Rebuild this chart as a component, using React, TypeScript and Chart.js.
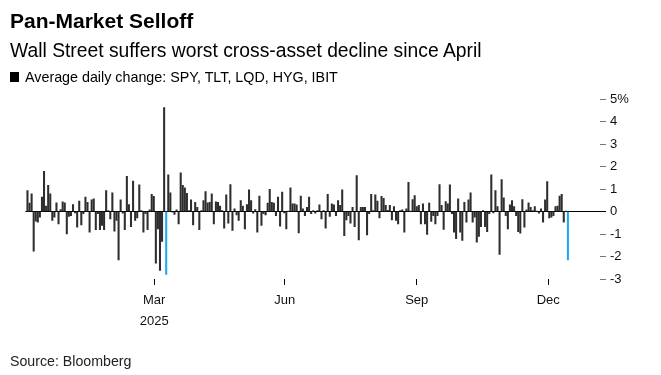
import React, { useEffect, useRef } from "react";
import { Chart, registerables } from "chart.js";

Chart.register(...registerables);

// Average daily change (%) of SPY, TLT, LQD, HYG, IBIT — one value per trading day
const values: number[] = [
  // segment 1
  0.93, 0.37, 0.79, -1.76, -0.43, -0.47, -0.25, 0.64, 1.79, 0.24,
  1.16, 0.79, -0.4, -0.25, 0.39, -0.55, 0.09, 0.43, 0.39, -1.0,
  -0.22, -0.18, 0.31, -0.06, -0.7, 0.46, -0.6, -0.1, 0.64, 0.41,
  -0.92, 0.52, 0.56, -0.81, -0.1, -0.81, -0.62, -0.81, 0.93, 0.04,
  -0.33, 0.83, -0.87, -0.4, -2.15, 0.52, -0.07, -0.81, 1.56, 0.31,
  -0.67, 1.35,
  // segment 2
  -0.4, -0.28, 1.19, 0.04, -0.92, -0.1, -0.81, 0.07, 0.76, 0.67,
  -2.3, -0.77, -2.62, -1.33, 4.62, -2.8, 1.63, 0.83, -0.03, -0.13,
  0.07, -0.55, 1.72, 1.16, 1.05, 0.81, 0.04, 0.52, -0.6, 0.41,
  0.19, -0.81, 0.04, 0.49, 0.89, 0.39, 0.41, 0.79, -0.55, 0.43,
  0.41, 0.24, 0.04, -0.74, 0.74, -0.52, 1.2, -0.84, 0.12, -0.15,
  -0.4, 0.49,
  // segment 3
  0.24, -0.77, 0.31, 0.96, 0.49, -0.07, 0.09, -0.92, 0.68, -0.62,
  -0.1, -0.15, 0.37, 0.98, 0.41, 0.37, -0.18, 0.64, -0.65, 0.86,
  -0.06, -0.77, 0.01, 1.05, 0.34, 0.34, 0.3, -0.95, 0.68, 0.12,
  -0.18, 0.19, 0.64, -0.1, 0.04, -0.07, 0.04, 0.3, -0.33, 0.04,
  -0.74, 0.76, -0.22, 0.34, 0.3, -0.18, 0.49, 0.27, 0.96, -1.07,
  -0.37, -0.18,
  // segment 4
  -0.52, 0.19, -0.67, 1.6, -1.26, 0.19, 0.19, 0.19, -1.04, -0.1,
  0.76, 0.04, 0.74, 0.46, -0.28, 0.67, 0.59, 0.27, 0.05, 0.27,
  -0.37, 0.22, -0.4, -0.55, 0.04, 0.07, -0.92, 0.12, 1.3, 0.02,
  0.53, 0.71, 0.22, 0.27, -0.55, 0.34, -0.55, -1.02, 0.37, -0.44,
  -0.18, -0.55, -0.18, 1.2, 0.27, -0.8, 0.44, 0.34, 1.19, -0.1,
  -0.92, -1.21,
  // segment 5
  0.56, -0.92, -1.29, 0.41, -0.47, 0.52, 0.83, -0.47, -0.25, -1.36,
  -1.11, -0.67, 0.04, -0.67, -0.9, -0.1, 1.63, -0.06, 0.93, 0.22,
  -1.91, 1.42, 0.61, -0.18, -0.77, 0.3, 0.49, 0.22, -0.18, -0.9,
  -0.96, 0.53, -0.7, 0.07, 0.39, 0.19, 0.04, 0.22, 0.02, -0.07,
  0.12, -0.47, 0.52, 1.33, -0.28, -0.25, -0.18, 0.22, 0.24, 0.68,
  0.76, -0.47, 0.02, -2.15,
];

// Days highlighted in blue (April's worst day and the latest selloff)
const highlightIdx: number[] = [67, 261];

// X-axis month ticks (position in trading-day index) and labels
const xTickPos: number[] = [61.2, 124.2, 188, 251.5];
const xTickLabels: (string | string[])[] = [["Mar", "2025"], "Jun", "Sep", "Dec"];

// Y-axis ticks
const yTicks: number[] = [5, 4, 3, 2, 1, 0, -1, -2, -3];

const FONT = "'Liberation Sans', Arial, Helvetica, sans-serif";
const BAR = "#2e2e2e";
const BLUE = "#1DA9EE";

export default function App() {
  const ref = useRef<HTMLCanvasElement | null>(null);

  useEffect(() => {
    if (!ref.current) return;
    Chart.defaults.font.family = FONT;
    const chart = new Chart(ref.current, {
      type: "bar",
      data: {
        datasets: [
          {
            data: values.map((v, i) => ({ x: i, y: v })),
            backgroundColor: values.map((_, i) => (highlightIdx.includes(i) ? BLUE : BAR)),
            barThickness: 1.4,
            borderWidth: 0,
          } as any,
        ],
      },
      options: {
        animation: false,
        responsive: false,
        events: [],
        layout: { padding: { left: 25.4, top: 99, right: 0, bottom: 0 } },
        plugins: { legend: { display: false }, tooltip: { enabled: false }, title: { display: false } },
        scales: {
          x: {
            type: "linear",
            min: -1,
            max: 276.5,
            offset: false,
            afterBuildTicks: (s: any) => {
              s.ticks = xTickPos.map((v) => ({ value: v }));
            },
            afterFit: (s: any) => {
              s.height = 96;
            },
            grid: { offset: false, drawOnChartArea: false, drawTicks: true, tickLength: 6, color: "#000", lineWidth: 1 },
            border: { display: false },
            ticks: {
              autoSkip: false,
              maxRotation: 0,
              padding: 5,
              color: "#111",
              font: { size: 13, lineHeight: 1.6 },
              callback: (_v: any, i: number) => xTickLabels[i] as any,
            },
          },
          y: {
            position: "right",
            min: -3,
            max: 5,
            afterBuildTicks: (s: any) => {
              s.ticks = yTicks.map((v) => ({ value: v }));
            },
            afterFit: (s: any) => {
              s.width = 61;
            },
            grid: {
              drawOnChartArea: true,
              drawTicks: true,
              tickLength: 6,
              lineWidth: 1,
              color: (ctx: any) => (ctx.tick && ctx.tick.value === 0 ? "#000" : "rgba(0,0,0,0)"),
              tickColor: (ctx: any) => (ctx.tick && ctx.tick.value === 0 ? "#000" : "#777"),
            },
            border: { display: false },
            ticks: {
              padding: 4,
              color: "#111",
              font: { size: 13 },
              callback: (v: any) => (v === 5 ? "5%" : String(v)),
            },
          },
        },
      },
    });
    return () => chart.destroy();
  }, []);

  const txt = (top: number, size: number, extra: React.CSSProperties = {}): React.CSSProperties => ({
    position: "absolute",
    left: 10,
    top,
    fontSize: size,
    lineHeight: `${size}px`,
    fontFamily: FONT,
    color: "#000",
    whiteSpace: "nowrap",
    margin: 0,
    ...extra,
  });

  return (
    <div style={{ position: "absolute", left: 0, top: 0, width: 661, height: 375, background: "#fff", overflow: "hidden" }}>
      <canvas ref={ref} width={661} height={375} style={{ position: "absolute", left: 0, top: 0, width: 661, height: 375 }} />
      <div style={txt(10.2, 21, { fontWeight: 700 })}>Pan-Market Selloff</div>
      <div style={txt(40.7, 19.3)}>Wall Street suffers worst cross-asset decline since April</div>
      <div style={{ position: "absolute", left: 10, top: 72, width: 9, height: 10, background: "#000" }} />
      <div style={txt(69.8, 14.3, { left: 25 })}>Average daily change: SPY, TLT, LQD, HYG, IBIT</div>
      <div style={txt(354, 14.2, { color: "#222" })}>Source: Bloomberg</div>
    </div>
  );
}
